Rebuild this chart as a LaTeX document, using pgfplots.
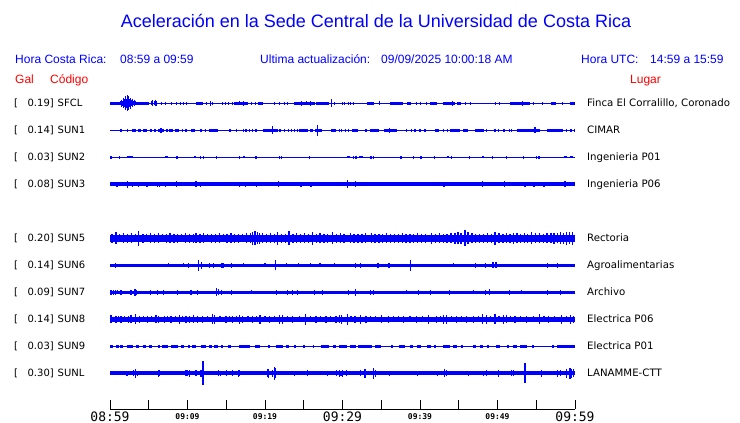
\documentclass[border=0pt]{standalone}
\usepackage{pgfplots}
\pgfplotsset{compat=1.18}
\usepackage{pgfplotstable}
\usepackage{fontspec}
\setmainfont{DejaVu Sans}
\newfontfamily\hv{Liberation Sans}
\newfontfamily\dm{DejaVu Sans Mono}
\definecolor{tb}{RGB}{0,0,255}
\definecolor{tr}{RGB}{255,0,0}

% spikes: t (min from 08:59), half height (px); bands: t, half length (min)
\pgfplotstableread{
t a
1.35 2.2
1.5 3.5
1.62 2.5
1.74 5
1.86 3.8
1.97 6.8
2.08 4.5
2.19 8
2.3 5.5
2.41 7.2
2.52 4
2.63 5.5
2.75 3
2.86 3.8
3.0 2.2
3.15 2.8
3.3 1.8
5.29 2
5.5 2.8
5.7 2.2
5.85 3
6.02 2.5
6.58 1.4
7.14 1.4
7.87 1.4
8.6 1.4
9.03 1.4
9.46 1.4
9.89 1.4
12.39 1.4
12.9 2.7
13.16 1.6
14.54 1.4
14.88 1.4
15.31 1.4
15.74 1.4
16.7 2
17.2 2.7
18.19 1.4
18.75 1.4
21.2 1.4
21.85 1.4
22.5 1.4
22.9 1.4
24.65 2.7
25.29 2
25.8 2.3
28.52 4
28.95 1.4
29.94 1.4
30.3 1.4
30.76 1.4
31.06 1.4
31.4 1.4
34.71 2
39.5 1.4
40.0 1.4
40.8 1.4
44.18 2.7
45.8 1.4
46.45 1.4
49.68 1.4
50.24 1.4
53.25 2.7
54.6 1.4
55.8 1.4
58.4 1.4
59.35 1.4
}\sfclS
\pgfplotstableread{
t h
0.65 0.65
4.2 0.85
11.55 0.47
16.9 0.86
19.4 0.33
25.1 1.3
27.4 0.85
33.64 0.44
37.0 0.82
38.6 0.3
41.75 0.45
43.75 0.75
45.0 0.28
52.9 1.3
57.25 0.36
59.7 0.3
}\sfclB

\pgfplotstableread{
t a
1.42 1.3
2.28 1.3
5.29 1.3
5.81 1.3
6.58 2.7
7.35 1.3
9.38 1.3
9.81 1.3
11.74 1.3
12.3 1.3
15.48 1.3
16.34 1.3
17.2 1.3
17.55 1.3
17.98 1.3
18.41 1.3
18.84 1.3
20.99 4
21.94 1.3
22.5 1.3
23.05 1.3
23.4 1.3
23.78 1.3
24.22 1.3
26.75 5.3
29.59 1.3
29.9 1.3
30.33 1.3
30.76 1.3
33.03 1.3
36.05 2.7
38.2 1.3
38.93 1.3
39.36 1.3
40.0 1.3
40.65 1.3
43.0 1.3
43.53 1.3
48.6 1.3
49.68 1.3
50.11 1.3
50.84 1.3
51.53 1.3
51.83 1.3
54.84 3
58.93 1.3
59.49 1.3
59.97 1.3
}\sunaS
\pgfplotstableread{
t h
3.1 0.26
3.78 0.22
4.47 0.27
6.58 0.43
7.83 0.26
8.69 0.26
10.73 0.28
13.35 0.55
20.73 1.0
24.97 0.54
25.97 0.17
26.93 0.43
28.83 0.33
31.63 0.43
34.13 0.63
36.18 0.82
42.22 0.28
44.5 0.65
45.83 0.33
47.68 0.58
54.0 1.5
57.38 1.03
}\sunaB

\pgfplotstableread{
t a
0.13 1.4
1.2 1.4
8.65 1.6
11.66 1.4
12.04 1.4
13.76 1.4
16.69 1.5
18.84 1.4
21.85 1.4
22.15 1.4
25.72 1.4
31.4 1.5
31.74 1.4
33.68 1.4
33.98 1.4
37.55 1.4
39.14 1.4
40.13 1.4
41.85 1.4
44.09 1.4
46.37 1.4
49.38 1.4
51.19 1.4
53.34 1.4
55.06 1.4
55.36 1.4
}\sunbS
\pgfplotstableread{
t h
2.54 0.39
7.27 0.17
11.02 0.13
17.28 0.18
30.75 0.22
32.39 0.22
43.57 0.13
48.08 0.12
58.75 0.17
59.53 0.17
}\sunbB

\pgfplotstableread{
t a
0.9 2.3
2.28 3.7
2.92 2.5
3.66 2.5
4.77 2.3
6.15 2.5
6.37 2.5
7.14 2.3
8.6 3
11.1 3
11.66 2.5
16.7 2.3
17.5 2.3
18.9 2.3
21.7 3
24.65 2.3
25.94 2.3
30.63 4
31.7 3
43.1 2.5
48.09 3
50.88 3
53.55 2.3
54.71 2.3
56.0 2.3
58.71 3
}\suncS

\pgfplotstableread{
t a
0.25 4.5
0.77 6
1.25 4.2
1.75 5
2.25 4.4
2.75 4.8
3.25 4.2
3.66 7.3
4.25 4.6
4.75 4.2
5.25 5
5.75 4.4
6.25 4.8
6.75 4.2
7.25 4.6
7.75 5
8.25 4.3
8.75 4.7
9.25 4.2
9.75 4.8
10.25 4.4
10.75 4.6
11.1 5.2
11.6 4.4
12.1 4.8
12.6 4.2
13.1 4.6
13.6 4.3
14.1 4.8
14.6 4.2
15.1 4.5
15.6 4.9
16.1 4.3
16.6 4.6
17.1 4.2
17.6 4.8
18.1 5
18.4 6.5
18.7 7
19.0 6.2
19.3 5.5
19.7 4.8
20.2 4.4
20.7 4.9
21.2 4.3
21.6 6.7
22.1 4.6
22.6 4.4
23.1 7
23.6 4.6
24.1 5
24.6 4.3
25.1 4.8
25.6 4.4
26.15 6.3
26.6 4.5
27.1 4.8
27.6 4.3
28.1 4.7
28.7 6
29.2 4.5
29.7 4.8
30.2 4.4
31.0 5
31.5 4.3
32.0 4.6
32.5 4.4
33.0 4.8
33.77 5.2
34.2 4.4
34.7 4.7
35.2 4.3
35.7 4.8
36.2 4.4
36.7 4.6
37.2 4.3
37.7 4.8
38.2 4.4
38.7 4.7
39.2 4.3
39.7 4.8
40.2 4.4
40.7 4.6
41.5 5.5
42.0 4.4
42.5 4.8
43.0 4.3
43.5 4.6
44.0 4.9
44.5 5.5
44.9 6
45.3 5.5
45.8 8
46.2 5.8
46.7 4.8
47.2 4.4
47.7 4.7
48.2 4.3
48.7 4.8
49.2 4.5
49.68 6.7
50.2 5
50.7 4.6
51.2 5
51.6 4.4
52.05 5.5
52.5 4.8
53.0 4.5
53.5 5
53.9 4.6
54.4 6
54.9 4.8
55.4 5
55.9 4.6
56.4 5.2
56.9 4.8
57.3 5.5
57.7 5.2
58.1 6
58.5 5.5
58.9 6.5
59.3 5.8
59.7 6.7
}\suneS

\pgfplotstableread{
t a
0.69 2.3
7.5 2
9.46 2
10.15 2.3
11.4 5.7
11.83 3.3
12.82 2.3
13.38 2.7
14.45 2.7
14.6 2.5
15.7 2.3
17.2 2
20.0 2
21.33 5
22.8 2
24.3 2
25.85 2
27.1 2
28.95 2
31.7 2.3
32.35 2.3
34.5 2.7
34.7 2.7
36.0 2.3
38.8 5.3
44.3 2
47.2 2.7
48.4 2.7
49.3 2.8
49.5 2.8
49.7 2.8
49.9 2.8
56.4 2.3
57.7 2.3
}\sunfS

\pgfplotstableread{
t a
0.13 2.7
0.4 2.3
0.69 2.7
1.0 2.2
1.42 2.3
2.71 2.3
3.23 3.5
3.44 2.7
5.2 2.7
6.15 2.3
6.88 2.3
8.73 2.3
10.45 2.3
11.31 2.3
13.76 4.2
14.0 3
14.4 2.7
15.7 2.3
18.2 2
21.5 2.3
22.9 2.3
23.57 2.3
24.2 2.3
26.4 2.3
27.4 2.3
30.75 2.3
31.7 3.3
33.6 2.3
34.0 2.3
38.3 2
39.8 2.7
41.4 2.3
43.8 2.7
46.9 2
48.5 2.7
49.0 3
51.5 2.7
53.1 2
56.4 2.3
58.1 2.3
}\sungS

\pgfplotstableread{
t a
0.13 4
0.77 3.7
1.1 3.0
1.42 3.7
1.9 3.0
2.41 3.7
2.71 4
3.27 5
3.78 3.7
4.3 3.0
4.86 3.7
5.4 3.0
5.94 4
6.28 3.7
7.01 3.7
7.4 3.0
7.87 3.7
8.4 3.0
8.95 4.5
9.4 3.0
9.81 3.7
10.24 3.7
10.75 4
11.31 3.7
11.96 3.7
12.6 3.0
13.25 5
13.46 4.5
14.2 3.0
14.97 3.7
15.4 3.0
15.83 3.7
16.3 3.0
16.69 4.5
17.12 3.7
17.8 3.0
18.41 3.7
18.9 3.0
19.35 4.5
20.0 3.0
20.56 3.7
21.2 3.0
21.85 4.5
22.28 4.5
22.9 3.0
23.57 3.7
24.4 3.0
25.2 5.3
25.9 3.0
26.58 3.7
27.2 3.0
27.87 3.7
28.5 3.0
29.16 3.7
29.59 4
29.9 4.5
30.63 5.7
31.1 3.0
31.62 3.7
32.35 4.5
33.03 3.7
33.6 3.0
34.3 3.0
35.06 4
35.92 3.7
36.6 3.0
37.2 3.0
37.85 3.7
38.7 3.0
39.57 3.7
40.3 3.0
41.08 4.5
42.15 3.7
42.6 3.0
43.01 4.5
43.44 4.5
44.1 3.0
44.73 3.7
45.4 3.0
46.02 3.7
46.88 3.7
47.5 3.0
48.09 5
48.6 4.5
49.1 3.0
49.68 5
50.2 3.0
50.76 4.5
51.19 4
51.7 3.0
52.26 3.7
53.0 3.0
53.77 3.7
54.6 3.0
55.4 5
56.0 3.0
56.56 3.7
57.4 3.0
58.28 4.5
58.9 3.0
59.44 4.5
59.79 3.7
}\sunhS

\pgfplotstableread{
t h
0.22 0.22
0.95 0.17
1.46 0.17
2.54 0.39
3.53 0.17
4.47 0.17
5.25 0.17
6.26 0.11
7.08 0.37
8.3 0.43
9.38 0.22
10.13 0.11
10.84 0.26
12.06 0.32
12.99 0.17
13.68 0.22
14.47 0.15
15.4 0.22
17.38 0.69
19.05 0.3
20.5 0.15
21.85 0.43
22.88 0.17
23.89 0.11
25.03 0.17
26.24 0.09
27.76 0.54
28.95 0.22
29.7 0.11
30.11 0.43
31.35 0.39
32.91 0.86
34.56 0.37
36.35 0.1
37.7 0.37
38.93 0.22
39.88 0.22
41.16 0.22
41.96 0.11
43.44 0.43
44.52 0.22
45.42 0.17
47.05 0.17
47.96 0.22
48.75 0.15
50.07 0.26
51.36 0.17
52.27 0.22
53.34 0.43
54.56 0.15
57.1 0.11
58.82 1.18
}\suniB

\pgfplotstableread{
t a
2.15 2.3
2.3 2.3
3.0 3
3.27 4.3
3.6 2.5
6.24 3.5
6.37 3
9.8 2.8
10.0 3
10.3 3.7
11.1 3
11.74 3.3
12.0 12
14.0 3
14.3 2.5
15.0 3
15.8 3
16.6 3.3
16.7 3
20.3 4
20.5 4.5
20.99 3.5
21.2 6.7
21.4 5
23.8 2.3
25.5 3
28.1 2.7
29.2 3
29.6 3.5
29.8 2.5
29.95 3.5
30.54 3
32.35 3
32.9 4.3
34.0 5.3
34.2 3.5
36.05 2.5
39.66 2.3
42.2 2.7
43.2 4
43.4 3
46.2 2.7
48.2 2.7
48.6 3
50.1 3.3
51.8 3
52.05 3
53.55 9.8
55.7 3.5
57.7 3.5
58.15 3
58.85 4.5
59.35 5.5
59.57 4.7
59.8 4
}\sunlS

\newcommand{\bigt}[1]{{\dm\fontsize{13bp}{13bp}\selectfont #1}}
\newcommand{\smt}[1]{\raisebox{2bp}{\dm\bfseries\fontsize{8bp}{8bp}\selectfont #1}}

\begin{document}
\begin{tikzpicture}
\path[use as bounding box] (0,0) rectangle (740bp,423bp);

\begin{scope}[shift={(0bp,423bp)}, x=1bp, y=-1bp, every node/.style={inner sep=0pt}]
  \node[anchor=base, text=tb, font=\hv\fontsize{18bp}{21bp}\selectfont] at (376,28)
    {Aceleración en la Sede Central de la Universidad de Costa Rica};
  \begin{scope}[every node/.append style={anchor=base west, text=tb, font=\hv\fontsize{12bp}{14bp}\selectfont}]
    \node at (15,64) {Hora Costa Rica:};
    \node at (120,64) {08:59 a 09:59};
    \node at (260,64) {Ultima actualización:};
    \node at (381,64) {09/09/2025 10:00:18 AM};
    \node at (581,64) {Hora UTC:};
    \node at (650,64) {14:59 a 15:59};
    \node[text=tr] at (15,84) {Gal};
    \node[text=tr] at (50,84) {Código};
    \node[text=tr] at (630,84) {Lugar};
  \end{scope}
  \foreach \c/\v/\p/\y in {SFCL/0.19/{Finca El Corralillo, Coronado}/103.3,
      SUN1/0.14/CIMAR/130.3, SUN2/0.03/Ingenieria P01/157.3,
      SUN3/0.08/Ingenieria P06/184.3, SUN5/0.20/Rectoria/238.3,
      SUN6/0.14/Agroalimentarias/265.3, SUN7/0.09/Archivo/292.3,
      SUN8/0.14/Electrica P06/319.3, SUN9/0.03/Electrica P01/346.3,
      SUNL/0.30/LANAMME-CTT/373.3}{
    \node[anchor=base west, font=\fontsize{10bp}{12bp}\selectfont] at (14,\y+3.7) {[};
    \node[anchor=base east, font=\fontsize{10bp}{12bp}\selectfont] at (54,\y+3.7) {\v]};
    \node[anchor=base west, font=\fontsize{10bp}{12bp}\selectfont] at (57.5,\y+3.7) {\c};
    \node[anchor=base west, font=\fontsize{10.2bp}{12bp}\selectfont] at (587,\y+3.7) {\p};
  }
\end{scope}

\pgfplotsset{
  spk/.style={draw=none, mark=none, forget plot,
    error bars/.cd, y dir=both, y explicit, error mark=none,
    error bar style={draw=tb, line width=#1}},
  bnd/.style={draw=none, mark=none, forget plot,
    error bars/.cd, x dir=both, x explicit, error mark=none,
    error bar style={draw=tb, line width=#1}},
}

\begin{axis}[
  at={(110bp,14bp)}, anchor=south west,
  scale only axis, width=465bp, height=409bp,
  xmin=0, xmax=60, ymin=0, ymax=409,
  axis x line=bottom, axis y line=none,
  x axis line style={-, black, line width=1bp},
  xtick={0,5,...,60},
  xticklabels={\bigt{08:59},,\smt{09:09},,\smt{09:19},,\bigt{09:29},,\smt{09:39},,\smt{09:49},,\bigt{09:59}},
  xtick align=inside,
  major tick length=9bp,
  tick style={black, line width=1bp},
  xticklabel style={anchor=base, inner sep=0pt, yshift=-12bp},
  clip=false,
]
% SFCL
\addplot[tb, line width=1.1bp] coordinates {(0,305.7) (60,305.7)};
\addplot[bnd=3bp] table[x=t, y expr=305.7, x error=h] {\sfclB};
\addplot[spk=0.9bp] table[x=t, y expr=305.7, y error=a] {\sfclS};
% SUN1
\addplot[tb, line width=1bp] coordinates {(0,278.7) (60,278.7)};
\addplot[bnd=2.6bp] table[x=t, y expr=278.7, x error=h] {\sunaB};
\addplot[spk=1.1bp] table[x=t, y expr=278.7, y error=a] {\sunaS};
% SUN2
\addplot[tb, line width=1bp] coordinates {(0,251.7) (60,251.7)};
\addplot[bnd=2.4bp] table[x=t, y expr=251.7, x error=h] {\sunbB};
\addplot[spk=1.1bp] table[x=t, y expr=251.7, y error=a] {\sunbS};
% SUN3
\addplot[tb, line width=3.8bp] coordinates {(0,224.7) (60,224.7)};
\addplot[spk=1.1bp] table[x=t, y expr=224.7, y error=a] {\suncS};
% SUN5
\addplot[tb, line width=6.6bp] coordinates {(0,170.7) (60,170.7)};
\addplot[spk=1.3bp] table[x=t, y expr=170.7, y error=a] {\suneS};
% SUN6
\addplot[tb, line width=3bp] coordinates {(0,143.7) (60,143.7)};
\addplot[spk=1.1bp] table[x=t, y expr=143.7, y error=a] {\sunfS};
% SUN7
\addplot[tb, line width=3.3bp] coordinates {(0,116.7) (60,116.7)};
\addplot[spk=1.1bp] table[x=t, y expr=116.7, y error=a] {\sungS};
% SUN8
\addplot[tb, line width=4.6bp] coordinates {(0,89.7) (60,89.7)};
\addplot[spk=1.2bp] table[x=t, y expr=89.7, y error=a] {\sunhS};
% SUN9
\addplot[tb, line width=1bp] coordinates {(0,62.7) (60,62.7)};
\addplot[bnd=2.5bp] table[x=t, y expr=62.7, x error=h] {\suniB};
% SUNL
\addplot[tb, line width=4bp] coordinates {(0,35.7) (60,35.7)};
\addplot[spk=1.1bp] table[x=t, y expr=35.7, y error=a] {\sunlS};
\end{axis}
\end{tikzpicture}
\end{document}
